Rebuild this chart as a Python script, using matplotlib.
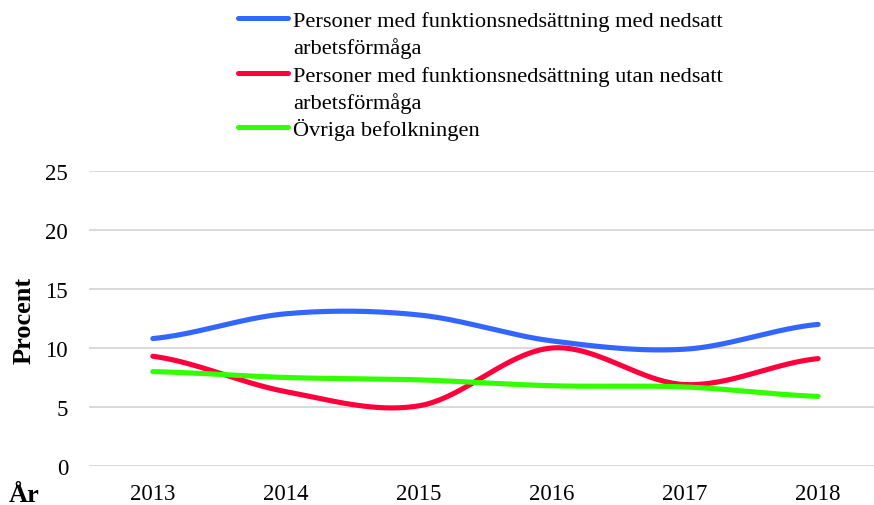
import numpy as np
import matplotlib.pyplot as plt
from matplotlib.lines import Line2D

years = ['2013', '2014', '2015', '2016', '2017', '2018']
med_nedsatt = [10.8, 12.9, 12.8, 10.6, 9.9, 12.0]
utan_nedsatt = [9.3, 6.3, 5.1, 10.0, 6.9, 9.1]
ovriga = [8.0, 7.5, 7.3, 6.8, 6.7, 5.9]

labels = [['Personer med funktionsnedsättning med nedsatt', 'arbetsförmåga'],
          ['Personer med funktionsnedsättning utan nedsatt', 'arbetsförmåga'],
          ['Övriga befolkningen']]
colors = ['#3366FF', '#FF003C', '#33FF00']

plt.rcParams['font.family'] = ['Liberation Serif', 'DejaVu Serif']


def smooth(y, n=40):
    # catmull-rom like excel's smoothed lines
    y = np.asarray(y, float)
    ext = np.concatenate([[y[0]], y, [y[-1]]])
    xs, ys = [], []
    for i in range(len(y) - 1):
        p0, p1 = ext[i + 1], ext[i + 2]
        m0 = (ext[i + 2] - ext[i]) / 2
        m1 = (ext[i + 3] - ext[i + 1]) / 2
        t = np.linspace(0, 1, n)
        h00 = 2*t**3 - 3*t**2 + 1
        h10 = t**3 - 2*t**2 + t
        h01 = -2*t**3 + 3*t**2
        h11 = t**3 - t**2
        xs.append(i + t)
        ys.append(h00*p0 + h10*m0 + h01*p1 + h11*m1)
    return np.concatenate(xs), np.concatenate(ys)


fig = plt.figure(figsize=(8.74, 5.06), dpi=100)
ax = fig.add_axes([89/874, 39/506, 1 - 89/874, 295/506])

for vals, c in zip([med_nedsatt, utan_nedsatt, ovriga], colors):
    sx, sy = smooth(vals)
    ax.plot(sx, sy, color=c, lw=3.7, solid_capstyle='round')

ax.set_xlim(-0.48, 5.42)
ax.set_ylim(0, 25)
ax.set_yticks(range(0, 26, 5))
ax.set_xticks(range(len(years)))
ax.set_xticklabels(years)
ax.tick_params(length=0, labelsize=16.5)
ax.tick_params(axis='y', pad=15)
ax.tick_params(axis='x', pad=12)
ax.grid(axis='y', color='#d9d9d9', lw=1.4)
ax.set_axisbelow(True)
for s in ax.spines.values():
    s.set_visible(False)

fig.text(24/874, 1 - 320/506, 'Procent', rotation=90, ha='center', va='center',
         fontsize=19, fontweight='bold')
fig.text(9/874, 1 - 496/506, 'År', ha='left', va='center', fontsize=19,
         fontweight='bold')

# legend drawn by hand so the handle sits on the first line
rows = [19, 74, 128]
for lab, c, ry in zip(labels, colors, rows):
    yf = 1 - ry/506
    fig.add_artist(Line2D([238/874, 288/874], [yf, yf], color=c, lw=3.6,
                          solid_capstyle='round'))
    for k, line in enumerate(lab):
        fig.text(293/874, 1 - (ry + 8 + 27*k)/506, line, ha='left',
                 va='baseline', fontsize=16.1)

fig.savefig('out.png', dpi=100)
